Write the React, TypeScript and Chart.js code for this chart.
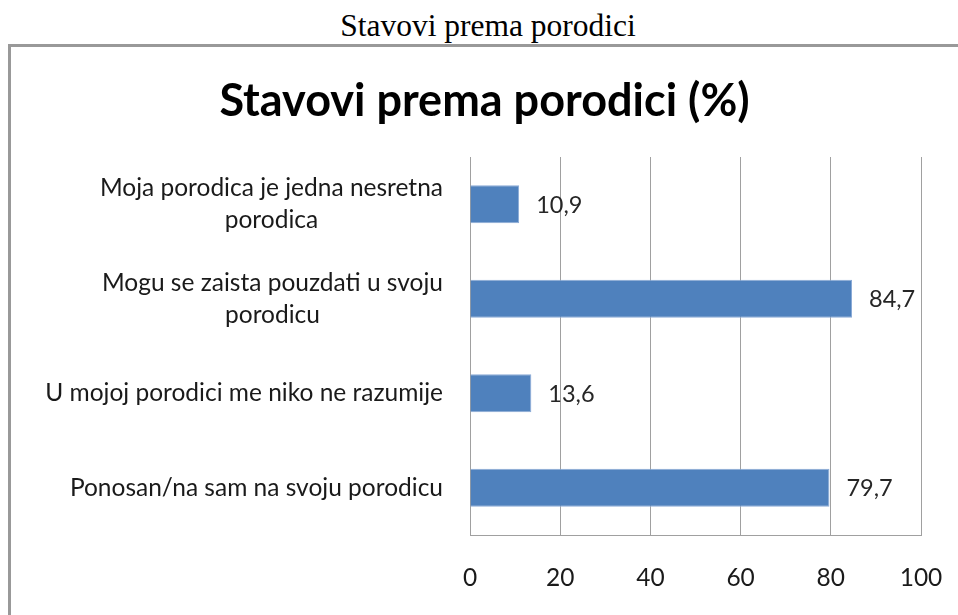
import React, { useEffect, useRef } from "react";
import { Chart, registerables } from "chart.js";

Chart.register(...registerables);

const pageCaption = "Stavovi prema porodici";
const chartTitle = "Stavovi prema porodici (%)";
const categories: string[][] = [
  ["Moja porodica je jedna nesretna", "porodica"],
  ["Mogu se zaista pouzdati u svoju", "porodicu"],
  ["U mojoj porodici me niko ne razumije"],
  ["Ponosan/na sam na svoju porodicu"],
];
const values: number[] = [10.9, 84.7, 13.6, 79.7];
const xTicks: number[] = [0, 20, 40, 60, 80, 100];

const FONT = "Lato, 'Open Sans', sans-serif";
const LABEL_SIZE = 24.5;
const VALUE_SIZE = 23.5;
const TICK_SIZE = 24.5;
const LINE_GAP = 32;

const categoryLabelPlugin = {
  id: "categoryLabels",
  afterDraw(chart: any) {
    const y = chart.scales.y;
    const ctx = chart.ctx;
    ctx.save();
    ctx.font = `${LABEL_SIZE}px ${FONT}`;
    ctx.fillStyle = "#1a1a1a";
    ctx.textAlign = "center";
    ctx.textBaseline = "middle";
    const right = chart.chartArea.left - 27;
    categories.forEach((lines, i) => {
      const cy = y.getPixelForValue(i);
      const w = Math.max(...lines.map((l) => ctx.measureText(l).width));
      const cx = right - w / 2;
      const start = cy - ((lines.length - 1) * LINE_GAP) / 2;
      lines.forEach((l, j) => ctx.fillText(l, cx, start + j * LINE_GAP));
    });
    ctx.restore();
  },
};

const valueLabelPlugin = {
  id: "valueLabels",
  afterDatasetsDraw(chart: any) {
    const ctx = chart.ctx;
    const meta = chart.getDatasetMeta(0);
    ctx.save();
    ctx.font = `${VALUE_SIZE}px ${FONT}`;
    ctx.fillStyle = "#262626";
    ctx.textAlign = "left";
    ctx.textBaseline = "middle";
    meta.data.forEach((bar: any, i: number) => {
      ctx.fillText(String(values[i]).replace(".", ","), bar.x + 17, bar.y + 1);
    });
    ctx.restore();
  },
};

export default function App() {
  const ref = useRef<HTMLCanvasElement | null>(null);
  useEffect(() => {
    if (!ref.current) return;
    const chart = new Chart(ref.current, {
      type: "bar",
      data: {
        labels: categories.map((c) => c.join(" ")),
        datasets: [
          {
            data: values,
            backgroundColor: "#4F81BD",
            borderColor: "#8AAAD6",
            borderWidth: 1,
            barPercentage: 0.8,
            categoryPercentage: 0.5,
          },
        ],
      },
      options: {
        indexAxis: "y",
        animation: false,
        responsive: false,
        maintainAspectRatio: false,
        layout: { padding: 0 },
        plugins: {
          legend: { display: false },
          tooltip: { enabled: false },
          title: {
            display: true,
            text: chartTitle,
            color: "#000",
            font: { family: FONT, size: 45, weight: "bold" },
            padding: { top: 27, bottom: 29 },
          },
        },
        scales: {
          x: {
            type: "linear",
            position: "bottom",
            min: 0,
            max: 100,
            afterBuildTicks: (s: any) => {
              s.ticks = xTicks.map((v) => ({ value: v }));
            },
            afterFit: (s: any) => {
              s.height = 80;
              s.paddingLeft = 0;
              s.paddingRight = 0;
            },
            ticks: {
              color: "#1a1a1a",
              font: { family: FONT, size: TICK_SIZE },
              padding: 28,
              maxRotation: 0,
              minRotation: 0,
            },
            grid: { color: "#a0a0a0", lineWidth: 1, drawTicks: false },
            border: { display: true, color: "#a0a0a0" },
          },
          y: {
            position: "left",
            afterFit: (s: any) => {
              s.width = 459;
            },
            ticks: { display: false },
            grid: { display: false },
            border: { display: true, color: "#a0a0a0" },
          },
          yRight: {
            type: "category",
            position: "right",
            afterFit: (s: any) => {
              s.width = 37;
            },
            ticks: { display: false },
            grid: { display: false },
            border: { display: false },
          },
        },
      },
      plugins: [categoryLabelPlugin, valueLabelPlugin],
    } as any);
    return () => chart.destroy();
  }, []);

  return (
    <div
      style={{
        position: "fixed",
        left: 0,
        top: 0,
        width: 958,
        height: 615,
        overflow: "hidden",
        background: "#fff",
      }}
    >
      <div
        style={{
          position: "absolute",
          left: 0,
          top: 8,
          width: 976,
          textAlign: "center",
          fontFamily: "'Liberation Serif', 'Times New Roman', serif",
          fontSize: 31.5,
          lineHeight: "36px",
          color: "#000",
        }}
      >
        {pageCaption}
      </div>
      <div
        style={{
          position: "absolute",
          left: 8,
          top: 44,
          width: 980,
          height: 600,
          borderLeft: "3px solid #999",
          borderTop: "3px solid #999",
        }}
      />
      <canvas
        ref={ref}
        width={947}
        height={568}
        style={{ position: "absolute", left: 11, top: 47, width: 947, height: 568 }}
      />
    </div>
  );
}
